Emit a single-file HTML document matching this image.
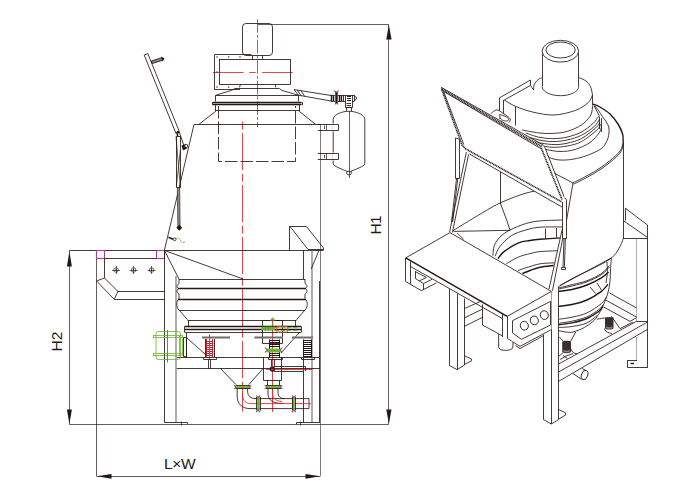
<!DOCTYPE html>
<html>
<head>
<meta charset="utf-8">
<style>
html,body{margin:0;padding:0;background:#fff;}
body{width:700px;height:500px;overflow:hidden;font-family:"Liberation Sans",sans-serif;}
svg{display:block;}
text{font-family:"Liberation Sans",sans-serif;fill:#231815;stroke:none;}
.k{stroke:#231815;fill:none;stroke-width:.85;}
.t{stroke:#231815;fill:none;stroke-width:.7;}
.g{stroke:#8a8a8a;fill:none;stroke-width:.7;}
.b{stroke:#231815;fill:none;stroke-width:1.4;}
.bb{stroke:#2e2421;fill:none;stroke-width:1.6;stroke-dasharray:1.2 .5;}
.b3{stroke:#2e2421;fill:none;stroke-width:2.4;stroke-dasharray:1.1 .6;}
.r{stroke:#e6212a;fill:none;stroke-width:.85;}
.gr{stroke:#6bb52d;fill:none;stroke-width:.8;}
.p{stroke:#a63ea4;fill:none;stroke-width:1.1;}
.w{fill:#fff;}
.a{fill:#231815;stroke:none;}
</style>
</head>
<body>
<svg width="700" height="500" viewBox="0 0 700 500">
<rect width="700" height="500" fill="#fff"/>

<!-- ================= LEFT DRAWING ================= -->
<g id="left">

<!-- dimension lines -->
<g class="t">
<path d="M257.4,24.5L388.6,24.5"/>
<path d="M388.5,24.4L388.5,424.4"/>
<path d="M69.4,424.5L388.6,424.5"/>
<path d="M69.5,250.4L69.5,424.4"/>
<path d="M96.5,250.4L96.5,476.5"/>
<path d="M320.5,124.4L320.5,476.5" stroke="#4a4340"/>
<path d="M97,476.5L320,476.5"/>
</g>
<g class="a">
<path d="M388.9,25L386.2,39.5L391.6,39.5Z"/>
<path d="M388.9,424L386.3,409.5L391.5,409.5Z"/>
<path d="M69.4,251.5L66.9,266.5L71.9,266.5Z"/>
<path d="M69.4,424L66.9,409.5L71.9,409.5Z"/>
<path d="M97,476.3L111.5,473.9L111.5,478.7Z"/>
<path d="M320.2,476.3L305.5,473.9L305.5,478.7Z"/>
</g>
<text x="164" y="468.7" font-size="15.5" letter-spacing="-0.35">L×W</text>
<text transform="translate(62.3,351.5) rotate(-90)" font-size="15.5">H2</text>
<text transform="translate(381,234.5) rotate(-90)" font-size="15.5" letter-spacing="-0.6">H1</text>

<!-- centerlines -->
<g class="r">
<path d="M257.5,19.3L257.5,127" stroke-dasharray="13.5 2 3 2"/>
<path d="M212.9,72.5L293,72.5" stroke-dasharray="30.7 5.7 6.4 6.4"/>
<path d="M242.5,121.6L242.5,411.5" stroke-dasharray="37 3.5 8 3.5" stroke-dashoffset="40.5"/>
<path d="M272.5,318L272.5,412"/>
</g>

<!-- motor -->
<rect class="k" x="242.5" y="23.5" width="30" height="32" rx="3.5"/>
<path class="k" d="M252.5,55.6L252.5,59.3M262.5,55.6L262.5,59.3"/>
<!-- fan box -->
<path class="k" d="M251.4,54.5L214.5,54.5L214.5,89.5L240,89.5"/>
<rect class="k" x="219.5" y="59.5" width="71" height="25"/>
<g class="a">
<circle cx="217" cy="57" r=".7"/><circle cx="228.7" cy="57" r=".7"/><circle cx="240" cy="57" r=".7"/>
<circle cx="217" cy="72" r=".7"/><circle cx="217" cy="87" r=".7"/><circle cx="228.7" cy="87" r=".7"/>
</g>
<!-- lid / transition -->
<path class="k" d="M240.7,84.3L239.3,87.4M275.5,84.3L275.5,87.4"/>
<path class="k" d="M215.5,101.4L215.5,95.3L231.4,90.4L235,88.5L279.3,88.5L282,90.4L298.5,95.3L298.5,101.4"/>
<path class="k" d="M215.7,95.5L298.6,95.5"/>
<path class="b" d="M213,102.5L301.5,102.5"/>
<path class="b" d="M213,104.5L301.5,104.5"/>
<path class="k" d="M212.5,102L212.5,105.2M302.5,102L302.5,105.2"/>
<path class="k" d="M215,110.5L299.8,110.5"/>
<!-- upper cone -->
<path class="k" d="M215.5,105.2L215.5,111.5L199,124.3M194,124.4L164.4,250.4"/>
<path class="k" d="M299.5,105.2L299.5,111.5L315.5,124.3"/>
<path class="k" d="M194,124.5L320.6,124.5"/>
<!-- dashed inner cylinder -->
<path style="stroke-dasharray:12.5 3" class="k" d="M218.5,106L218.5,161.5L295.5,161.5L295.5,106"/>

<!-- tube to tank -->
<path class="k" d="M294,89.6L331,95.5M298.5,95.2L331,101M294,89.6L298.5,95.2"/>
<path class="k" d="M297.2,90.1L301,95.6M301,90.7L304.6,96.3"/>
<!-- valve -->
<path class="b" d="M331.5,94.8L331.5,101.6M333.5,95.5L333.5,101M339.5,95L339.5,101.5M341.5,95.5L341.5,101"/>
<path class="k" d="M331,95.5L354,95.5L357,98L354,101.5L352,101.5M331,101.5L345.5,101.5M343.5,95.2L343.5,101.2M345.5,95.2L345.5,101.2M352.5,95.2L352.5,101.2M354.5,95.2L354.5,101.2"/>
<path class="b" d="M347,96.5L351,96.5M347,98.5L351,98.5M347,100.5L351,100.5" style="stroke-width:1"/>
<path class="p" d="M335.5,91L335.5,104.4M337.5,91L337.5,104.4M333.8,90.6L336.3,92.4L338.8,90.6"/>
<path class="b" d="M336.5,92.5L336.5,103.5" style="stroke-width:1.2"/>
<path class="k" d="M345.5,101.2L345.5,107.5L352.5,107.5L352.5,101.2M346.5,107.6L346.5,111.3M351.5,107.6L351.5,111.3"/>
<path class="b" d="M346.5,103.5L351,103.5M346.5,105.5L351,105.5M346.5,107.5L351,107.5" style="stroke-width:.9"/>
<!-- tank -->
<path class="k" d="M333.2,164V119.5C333.2,115 340,112.3 346.4,111.3H351.2C358,112.3 364.8,115 364.8,119.5V164C364.8,166 354,170 351,171.3H347C344,170 333.2,166 333.2,164Z"/>
<path class="t" d="M349.5,111.3L349.5,178"/>
<path class="k" d="M346.8,171.3V173.5C346.8,175.2 351.2,175.2 351.2,173.5V171.3"/>
<!-- brackets -->
<path class="w" d="M332.5,123.5L337.5,123.5L337.5,131.5L332.5,131.5ZM332.5,152.5L337.5,152.5L337.5,160.5L332.5,160.5Z"/>
<path class="k" d="M317.8,124.5L338.5,124.5L338.5,130.5L317.8,130.5M317.8,153.5L338.5,153.5L338.5,159.5L317.8,159.5"/>
<path class="t" d="M326.5,124.4L326.5,130M324.5,125.5L324.5,129M326.5,153.6L326.5,159.2M324.5,154.6L324.5,158.2"/>

<!-- lid bar -->
<path class="k" d="M144.2,55L147.8,53.6L179.3,131.5M144.2,55L176,133.5"/>
<path style="fill:#231815" class="k" d="M151.3,61L161.8,57.7L162.6,60.3L152.1,63.6Z" fill-opacity=".55"/>
<path class="a" d="M161.2,56.6L164.6,58.6L162.6,61.6Z"/>
<!-- gas spring -->
<path class="k" d="M176.5,136.5L180.5,136.5L180.5,187.5L176.5,187.5Z"/>
<path class="t" d="M176,136.5L180.4,187.3M180.4,150L176.3,187"/>
<path style="stroke-width:1.6" class="b" d="M176.2,133.2L179.6,131.7M177.5,131L177.5,136.5"/>
<path d="M177.3,187.5L177.8,226.5L180.1,226.5L179.7,187.5Z" fill="#8f8987" stroke="#231815" stroke-width=".6"/>
<path class="a" d="M179.3,224.8L182.2,227.8L179.3,230.8L176.4,227.8Z"/>
<path class="k" d="M179.3,132L184,146"/>
<path class="a" d="M181.5,145.5L186,144L187,148.5L183,150.5Z"/>
<circle style="fill:#fff" class="k" cx="186.2" cy="146" r="1.6"/>
<!-- small latch -->
<path style="stroke-width:1.7" class="b" d="M168.5,237.3L173,239.2"/>
<circle class="k" cx="174.6" cy="239.3" r="1.4"/>
<path class="gr" d="M176,239C178,237.5 179.5,238.5 180.5,240.5C181.5,242.7 183.5,243.3 185.2,241.2"/>

<!-- top horizontal of base -->
<path class="k" d="M69.4,250.5L323,250.5"/>
<!-- purple squares -->
<rect class="p" x="96.5" y="250.5" width="8" height="8"/>
<rect class="p" x="156.5" y="250.5" width="8" height="8"/>
<path class="k" d="M104.4,258.5L156.6,258.5"/>
<!-- chute -->
<path class="k" d="M104.5,258.4L104.5,278L118,291.5L164.4,291.5"/>
<path class="k" d="M96.6,281L104.4,278M96.6,281L114.4,299.5L164.4,299.5M118,291L114.4,299"/>
<g style="stroke-width:.65" class="t">
<circle cx="116" cy="270" r="2.3"/><path d="M112,270.5L120,270.5M116.5,266L116.5,274"/>
<circle cx="133.6" cy="270" r="2.3"/><path d="M129.6,270.5L137.6,270.5M133.5,266L133.5,274"/>
<circle cx="151.6" cy="270" r="2.3"/><path d="M147.6,270.5L155.6,270.5M151.5,266L151.5,274"/>
</g>
<g class="a"><circle cx="116" cy="270" r=".8"/><circle cx="133.6" cy="270" r=".8"/><circle cx="151.6" cy="270" r=".8"/></g>

<!-- left leg -->
<path class="k" d="M164.5,250.4L164.5,422.4"/>
<path class="g" d="M175.5,276L175.5,422.4M176.5,276L176.5,422.4"/>
<path class="k" d="M164.4,422.5L187.5,422.5L187.5,424.4"/>
<path class="t" d="M181.5,421.5L181.5,425.5"/>
<!-- hopper -->
<path class="k" d="M164.4,250.4L243,279M164.4,250.4L179,279"/>
<!-- right side -->
<path class="k" d="M303.5,250.4L303.5,279"/>
<path class="g" d="M311.5,250.4L311.5,422.4M312.5,250.4L312.5,422.4"/>
<path class="k" d="M319.5,281L319.5,422.4"/>
<path class="k" d="M319,250.4L311.2,269"/>
<path class="k" d="M296.6,422.5L320,422.5M296.5,422.4L296.5,424.4"/>
<path class="t" d="M300.5,421.5L300.5,425.5"/>
<path class="k" d="M303.5,357.4L303.5,422.4"/>
<!-- right box on top -->
<path class="k" d="M289.5,250.4L289.5,226.5L306.4,226.5L323.5,248L323.5,250.4M291,227.6L308,249.5L323,249.5M289.4,226.4L291,227.6"/>

<!-- screen body -->
<path class="k" d="M179,279.5L305,279.5"/>
<path class="b" d="M178,288.5L306,288.5"/>
<path class="b" d="M178,299.5L306,299.5"/>
<path class="k" d="M179,310.5L305,310.5"/>
<path class="k" d="M179,279V283.5C176.5,285 176.5,287.5 178.5,288.6C176.5,290 176.5,292.5 179,294V299C176,301 176,307 179,310"/>
<path class="k" d="M305,279V283.5C307.5,285 307.5,287.5 305.5,288.6C307.5,290 307.5,292.5 305,294V299C308,301 308,307 305,310"/>
<path class="k" d="M179,310L187.5,319.7M305,310L296.5,319.7"/>
<path class="k" d="M187.5,320.5L296.5,320.5"/>
<path class="b" d="M184.6,326.5L301,326.5"/><path class="k" d="M184.6,332.5L301,332.5M184.5,326.4L184.5,332.4M301.5,326.4L301.5,332.4"/>
<path class="b" d="M184.6,329.5L301,329.5"/>
<path class="k" d="M188.5,320L188.5,326.4M295.5,320L295.5,326.4"/>
<!-- box with green -->
<path class="k" d="M262.5,320.5L282.5,320.5L282.5,343.5L262.5,343.5Z"/>
<path style="stroke-width:3.6" class="gr" d="M261.4,328.5L275,328.5"/>
<path style="stroke-width:.9;stroke-dasharray:4 2" class="gr" d="M275,327.5L297,327.5M275,330.5L297,330.5"/>
<path style="stroke-width:.5;stroke:#3c7a1a" class="k" d="M265.5,327L265.5,331M268.5,327L268.5,331"/>
<path d="M269.8,320.5L272.6,317.3L275.4,320.5Z" fill="#6bb52d"/>
<rect x="276.4" y="326.3" width="11.4" height="5.8" rx="1.4" fill="none" stroke="#d9532a" stroke-width="1"/>
<!-- under plate -->
<path class="k" d="M186.5,332.4L186.5,357.4M187,338L206,355"/>
<path class="k" d="M299.5,332.4L281,353"/>
<path d="M202,337.5L230,337.5M254.3,337.5L283,337.5M292,337.5L313,337.5" stroke="#6e6e6e" stroke-width="2" fill="none"/>
<!-- springs -->
<g stroke="#231815" stroke-width=".9" fill="none"><path d="M205.5,339L205.5,357M214.5,339L214.5,357"/></g>
<g stroke="#c5262c" stroke-width="1" fill="none">
<path d="M206.5,339L206.5,357M212.5,339L212.5,357"/>
<path d="M206,341.5L213.4,341.5M206,343.5L213.4,343.5M206,345.5L213.4,345.5M206,347.5L213.4,347.5M206,349.5L213.4,349.5M206,351.5L213.4,351.5M206,353.5L213.4,353.5M206,355.5L213.4,355.5"/>
</g>
<path class="r" d="M209.5,334L209.5,360"/>
<path class="k" d="M203.5,357.4L203.5,359.5L216.5,359.5L216.5,357.4"/>
<g stroke="#231815" stroke-width="1" fill="none">
<path d="M303.5,339.5L303.5,357M311.5,339.5L311.5,357"/>
<path d="M303,340.5L311.6,340.5M303,342.5L311.6,342.5M303,344.5L311.6,344.5M303,346.5L311.6,346.5M303,348.5L311.6,348.5M303,350.5L311.6,350.5M303,352.5L311.6,352.5M303,354.5L311.6,354.5M303,356.5L311.6,356.5"/>
<path d="M269.5,339.5L269.5,358M279.5,339.5L279.5,358"/>
<path d="M269.8,340.5L279.8,340.5M269.8,342.5L279.8,342.5M269.8,344.5L279.8,344.5M269.8,346.5L279.8,346.5M269.8,353.5L279.8,353.5M269.8,355.5L279.8,355.5"/>
</g>
<path style="stroke-width:3.8" class="gr" d="M266.5,350.5L280.8,350.5"/>
<path class="p" d="M265,347.5L267.2,350L265,352.5M282.4,347.5L280.2,350L282.4,352.5"/>
<path class="k" d="M301.5,357.4L301.5,359.5L314.5,359.5L314.5,357.4M268.5,357.4L268.5,359.5L282.5,359.5L282.5,357.4"/>

<!-- frame beam -->
<path class="k" d="M176.8,357.5L319.6,357.5M176.8,368.5L319.6,368.5"/>
<path class="k" d="M208.5,359.4L208.5,368.6M210.5,359.4L210.5,368.6"/>
<!-- bottom cone -->
<path class="k" d="M220.6,368.6L236,384.6M263,368.6L248.8,384.6"/>
<!-- valve body -->
<path class="k" d="M263.5,357.4L263.5,380.5L281.5,380.5L281.5,357.4"/>
<path class="k" d="M267.5,380L267.5,385M279.5,380L279.5,385"/>
<path class="k" d="M271.5,359.4L271.5,366.4M274.5,359.4L274.5,366.4"/>
<!-- pipe from circle -->
<path class="k" d="M274,366.5L305,366.5M274,371.5L303.4,371.5M305.5,366.2L305.5,371"/>
<path class="r" d="M266,369.5L312,369.5"/>
<circle cx="272.4" cy="369" r="2" fill="none" stroke="#231815" stroke-width="1.3"/>
<!-- flanges -->
<path style="stroke-width:2.8" class="gr" d="M235.5,387.5L250,387.5"/>
<path class="k" d="M235.5,385.5L250,385.5M235.5,388.5L250,388.5"/>
<path class="p" d="M234.2,385L236,387L234.2,389M251.3,385L249.5,387L251.3,389"/>
<path style="stroke-width:2.8" class="gr" d="M266,387.5L281,387.5"/>
<path class="k" d="M266,385.5L281,385.5M266,388.5L281,388.5"/>
<path class="p" d="M264.7,385L266.5,387L264.7,389M282.3,385L280.5,387L282.3,389"/>
<!-- pipes -->
<path class="k" d="M237.2,389V396C237.2,404 242,408.6 250,408.6H309V398.6H256C250.5,398.6 247.6,396 247.6,391V389"/>
<path class="k" d="M268,389V393C268,400 272,403.5 283.5,403.5M278,389V392C278,396.5 280,398.6 284.5,398.6"/>
<path class="r" d="M242.5,389V395C242.5,401 246,403.6 252,403.6H311M272.4,389V392C272.4,398 275,401 282,401.5"/>
<path style="stroke-width:2.6" class="gr" d="M258.5,397L258.5,410.5"/>
<path class="k" d="M256.5,397L256.5,410.5M260.5,397L260.5,410.5"/>
<path class="p" d="M256.3,395.5L258.2,397.3L260.1,395.5M256.3,412L258.2,410.2L260.1,412"/>
<path style="stroke-width:2.6" class="gr" d="M293.5,397L293.5,410.5"/>
<path class="k" d="M292.5,397L292.5,410.5M295.5,397L295.5,410.5"/>
<path class="p" d="M291.9,395.5L293.8,397.3L295.7,395.5M291.9,412L293.8,410.2L295.7,412"/>

<!-- green motor -->
<g class="gr">
<rect x="156" y="331.5" width="24.5" height="28" rx="2.2"/>
<path d="M153,335.5L182.5,335.5M153,337.5L182.5,337.5M153,353.5L182.5,353.5M153,355.5L182.5,355.5M153.5,335L153.5,337.5M153.5,353.5L153.5,355.7"/>
<path d="M179.5,335L179.5,355.7M182.5,335L182.5,355.7"/>
</g>
<path class="k" d="M183.5,337.5L186.5,337.5L186.5,356.5L183.5,356.5Z"/>
<path class="r" d="M167.5,330L167.5,362.5"/>
</g>

<!-- RIGHT-BEGIN -->
<g id="right">
<path class="b" d="M592.5,104.0C593.8,104.5 597.1,105.3 600.0,107.0C602.9,108.7 607.0,111.2 610.0,114.0C613.0,116.8 615.9,120.7 618.0,124.0C620.1,127.3 621.8,131.2 622.6,134.0C623.5,136.8 623.0,139.8 623.1,141.0"/>
<path class="k" d="M623.5,141L623.5,238.6"/>
<path class="k" d="M623.1,238.6C622.8,239.4 622.6,241.1 621.4,243.6C620.2,246.1 617.8,250.9 615.7,253.6C613.6,256.3 612.2,257.6 608.6,260.0C605.0,262.4 599.5,265.2 594.3,267.9C589.0,270.6 582.8,273.1 577.1,276.0C571.4,278.9 562.9,283.9 560.0,285.5"/>
<path class="k" d="M595.0,106.0C595.6,106.8 597.3,108.8 598.5,110.5C599.7,112.2 600.8,114.2 602.0,116.0C603.2,117.8 604.9,119.7 606.0,121.5C607.1,123.3 608.3,124.9 608.8,127.0C609.3,129.1 609.1,131.7 608.8,134.0C608.5,136.3 608.2,138.3 607.0,140.7C605.8,143.1 604.7,146.1 601.4,148.6C598.1,151.1 591.8,153.7 587.0,155.5C582.2,157.3 577.4,158.4 572.9,159.2C568.4,159.9 563.9,160.3 560.0,160.0C556.1,159.7 552.1,158.9 549.5,157.5C546.9,156.1 545.2,152.4 544.3,151.4"/>
<path class="k" d="M572.9,182.9C575.3,181.7 582.4,178.3 587.1,175.7C591.9,173.1 596.6,170.4 601.4,167.1C606.2,163.8 612.4,158.8 615.7,155.7C619.0,152.6 620.2,151.0 621.4,148.6C622.6,146.2 622.8,142.3 623.1,141.0"/>
<path class="k" d="M573.5,184.2C575.9,183.0 583.0,179.6 587.7,177.0C592.5,174.4 597.2,171.7 602.0,168.4C606.8,165.1 612.9,160.0 616.2,157.0C619.5,154.0 620.5,152.5 621.6,150.3C622.8,148.1 622.9,145.1 623.1,144.0"/>
<path class="k" d="M573,183L549,170.3M573,183L566.6,220"/>
<path class="k" d="M525.7,132.9C527.9,133.6 534.1,136.2 538.6,137.1C543.1,138.0 548.1,138.6 552.9,138.6C557.6,138.6 562.4,138.2 567.1,137.1C571.9,136.0 577.1,134.3 581.4,132.1C585.7,129.8 590.0,126.2 592.9,123.6C595.8,121.0 597.6,117.6 598.6,116.4"/>
<path class="k" d="M530.0,137.5C531.7,137.9 536.2,139.5 540.0,140.2C543.8,140.9 548.4,141.6 552.9,141.6C557.4,141.6 562.4,141.1 567.1,140.0C571.9,138.9 576.9,137.6 581.4,135.3C585.9,133.0 591.3,129.1 594.3,126.4C597.3,123.7 598.5,120.5 599.3,119.3"/>
<path class="k" d="M535.0,141.5C536.2,141.8 538.7,142.8 542.0,143.3C545.3,143.8 550.8,144.6 555.0,144.6C559.2,144.6 562.7,144.2 567.1,143.2C571.5,142.2 576.6,141.1 581.4,138.6C586.2,136.1 592.6,130.7 595.7,127.9C598.8,125.1 599.3,123.0 600.0,122.0"/>
<path class="k" d="M540.0,145.5C542.1,145.8 548.4,147.2 552.9,147.3C557.4,147.4 562.4,146.9 567.1,146.0C571.9,145.1 576.4,144.3 581.4,141.6C586.4,138.9 593.9,132.7 597.1,129.8C600.3,126.9 600.1,125.1 600.7,124.2"/>
<path class="k" d="M546.0,149.5C548.3,149.8 555.2,151.5 560.0,151.5C564.8,151.5 570.0,151.0 575.0,149.5C580.0,148.0 586.0,145.2 590.0,142.5C594.0,139.8 597.1,135.6 599.0,133.0C600.9,130.4 601.1,128.0 601.5,127.0"/>
<path class="k" d="M599.5,116.5L599.5,129M601.5,118L601.5,132"/>
<path class="k" d="M594,105.5L599.3,116"/>
<path d="M504.3,100L515.5,106.4L515.5,125L522.1,130L538.6,132.9L552.9,133.4L567.1,131.4L581.4,125L590,116.4L592.5,108L592.5,95L590.5,86.5L586,81L579,77.7L542.1,77.9L538.6,79.3L534.3,84.3L533.6,90L530.5,85.7L530.5,80L499.5,97.9L499.5,118.6L503.6,118Z" fill="#fff" stroke="none"/>
<path class="k" d="M522.1,130.0C524.9,130.5 533.5,132.3 538.6,132.9C543.7,133.5 548.1,133.7 552.9,133.4C557.6,133.2 562.4,132.8 567.1,131.4C571.9,130.0 577.6,127.5 581.4,125.0C585.2,122.5 588.1,119.2 590.0,116.4C591.9,113.6 592.1,110.1 592.5,108.0C592.9,105.9 592.5,104.7 592.5,104.0"/>
<path class="k" d="M592.5,95L592.5,104"/>
<path class="k" d="M504.3,100.0C506.2,101.1 510.9,104.4 515.7,106.4C520.5,108.4 526.5,110.7 532.9,112.1C539.3,113.5 547.2,115.3 554.3,115.0C561.4,114.7 570.1,112.3 575.7,110.3C581.3,108.3 585.2,105.3 588.0,102.8C590.8,100.2 591.8,96.3 592.5,95.0"/>
<path class="k" d="M592.5,95.0C592.2,93.6 591.6,88.8 590.5,86.5C589.4,84.2 587.9,82.5 586.0,81.0C584.1,79.5 580.2,78.2 579.0,77.7"/>
<path class="k" d="M533.6,90.0C533.7,89.0 533.5,86.0 534.3,84.3C535.1,82.6 536.9,80.7 538.2,79.6C539.5,78.5 541.5,78.0 542.1,77.7"/>
<path class="k" d="M499.5,118.6L499.5,97.9L530.5,80L530.5,85.7L533.6,90M530,85.7L504.3,100M503.5,100L503.5,118"/>
<path class="k" d="M515.5,106.4L515.5,125.5"/>
<path d="M542.1,51V86.4C542.2,86.7 542.2,87.6 542.5,88.2C542.7,88.8 543.0,89.4 543.5,90.0C543.9,90.5 544.5,91.1 545.2,91.6C545.8,92.1 546.6,92.5 547.5,93.0C548.3,93.4 549.2,93.8 550.2,94.1C551.2,94.5 552.3,94.8 553.4,95.0C554.5,95.2 555.7,95.4 556.8,95.5C558.0,95.6 559.2,95.7 560.4,95.7C561.6,95.7 562.8,95.6 564.0,95.5C565.1,95.4 566.3,95.2 567.4,95.0C568.5,94.8 569.6,94.5 570.6,94.1C571.6,93.8 572.5,93.4 573.3,93.0C574.2,92.5 575.0,92.1 575.6,91.6C576.3,91.1 576.9,90.5 577.3,90.0C577.8,89.4 578.1,88.8 578.3,88.2C578.6,87.6 578.6,86.7 578.7,86.4V51Z" fill="#fff" stroke="none"/>
<path class="k" d="M542.5,51L542.5,86.4M578.5,51L578.5,86.4"/>
<path class="k" d="M578.7,86.4C578.6,86.7 578.6,87.6 578.3,88.2C578.1,88.8 577.8,89.4 577.3,90.0C576.9,90.5 576.3,91.1 575.6,91.6C575.0,92.1 574.2,92.5 573.3,93.0C572.5,93.4 571.6,93.8 570.6,94.1C569.6,94.5 568.5,94.8 567.4,95.0C566.3,95.2 565.1,95.4 564.0,95.5C562.8,95.6 561.6,95.7 560.4,95.7C559.2,95.7 558.0,95.6 556.8,95.5C555.7,95.4 554.5,95.2 553.4,95.0C552.3,94.8 551.2,94.5 550.2,94.1C549.2,93.8 548.3,93.4 547.5,93.0C546.6,92.5 545.8,92.1 545.2,91.6C544.5,91.1 543.9,90.5 543.5,90.0C543.0,89.4 542.7,88.8 542.5,88.2C542.2,87.6 542.2,86.7 542.1,86.4"/>
<ellipse class="k" cx="560.4" cy="51.2" rx="18.3" ry="10.9" style="fill:#fff"/>
<ellipse class="k" cx="560.6" cy="50" rx="14.7" ry="8"/>
<path class="k" d="M500.5,172L500.5,202.9"/>
<path class="k" d="M452.9,230.7C455.6,229.0 463.6,224.1 469.3,220.7C475.0,217.2 481.9,213.0 487.1,210.0C492.3,207.0 494.8,205.4 500.3,202.9C505.8,200.4 514.5,196.9 520.0,195.0C525.5,193.1 528.8,192.3 533.0,191.4C537.2,190.5 543.0,189.8 545.0,189.5"/>
<path class="k" d="M500.3,202.9L507,221L510,230.2"/>
<path class="k" d="M453.6,231.4L510,230.3"/>
<path class="k" d="M457,232.9L463.6,239.3"/>
<path d="M490.8,113.7C491.4,113.2 493.2,111.4 494.4,110.8C495.6,110.2 496.4,109.6 498.0,110.1C499.6,110.6 502.0,112.6 503.8,113.8C505.6,115.0 507.7,116.3 508.8,117.3C509.9,118.3 510.3,118.8 510.3,119.7C510.3,120.6 509.1,122.1 508.8,122.6L490.8,113.7Z" fill="#fff" stroke="none"/>
<path class="k" d="M490.8,113.7C491.4,113.2 493.2,111.4 494.4,110.8C495.6,110.2 496.4,109.6 498.0,110.1C499.6,110.6 502.0,112.6 503.8,113.8C505.6,115.0 507.7,116.3 508.8,117.3C509.9,118.3 510.3,118.8 510.3,119.7C510.3,120.6 509.1,122.1 508.8,122.6"/>
<path class="k" d="M499.6,114.6C500.3,114.8 502.6,115.2 504.0,115.8C505.4,116.4 507.4,117.4 508.1,118.2C508.8,119.0 508.9,120.0 508.3,120.4C507.7,120.9 505.8,121.1 504.5,120.9C503.2,120.7 501.4,120.0 500.6,119.0C499.8,118.0 499.8,115.3 499.6,114.6"/>
<path d="M441,87.4L543.3,146L564,196.5L562.4,207L469.5,154L462,145Z" fill="#fff" stroke="none"/>
<path class="k" d="M441,87.2L543.5,145.2"/>
<path class="b3" d="M441.9,89.1L542,147"/>
<path class="k" d="M443.2,91.2L540.8,148.6"/>
<path class="bb" d="M441.4,88.5L462,145L465,148.5"/>
<path class="k" d="M443.6,91.5L463.8,144.6"/>
<path class="bb" d="M465,148.5L562,202"/>
<path class="k" d="M469.5,154L562,207"/>
<path class="bb" d="M541.2,148L562,199.5"/>
<path class="k" d="M544.6,146.5L564,196.5"/>
<path d="M455.5,138.5L459.5,138.5L459.5,178.5L455.5,178.5Z" fill="#fff" stroke="none"/>
<path class="k" d="M455.5,138L455.5,178.5L459.5,178.5L459.5,139.2L455.5,138"/>
<path class="k" d="M456.6,178L451.5,222M457.8,178L452.7,222"/>
<path class="k" d="M466.4,152L449.6,232M468.6,154.3L452.4,232.4"/>
<path class="k" d="M492.9,255.7C493.1,254.0 493.1,248.8 494.3,245.7C495.5,242.6 497.4,239.6 500.0,237.0C502.6,234.4 505.7,232.2 510.0,230.0C514.3,227.8 520.7,225.1 525.7,223.6C530.7,222.1 534.0,221.5 540.0,220.9C546.0,220.3 558.3,220.2 562.0,220.0"/>
<path class="k" d="M495.0,256.4C495.8,254.7 497.3,249.8 500.0,246.4C502.7,243.0 507.1,238.4 511.4,235.7C515.7,233.0 520.9,231.4 525.7,230.0C530.5,228.6 534.0,227.7 540.0,227.2C546.0,226.7 558.3,227.0 562.0,227.0"/>
<path class="b" d="M497.9,258.6C499.0,257.4 500.9,254.0 504.3,251.4C507.8,248.8 514.3,244.7 518.6,242.9C522.9,241.1 526.4,241.1 530.0,240.5C533.6,239.9 534.9,239.7 540.0,239.3C545.1,238.9 557.2,238.1 560.7,237.9"/>
<path class="k" d="M506.4,263.6C508.4,262.5 514.7,258.7 518.6,257.0C522.5,255.3 526.4,254.5 530.0,253.6C533.6,252.7 535.2,252.1 540.0,251.6C544.8,251.1 555.5,250.8 558.6,250.7"/>
<path class="k" d="M517.9,270.7C519.2,270.2 522.0,269.0 525.7,267.9C529.4,266.8 535.2,264.6 540.0,263.8C544.8,263.0 551.9,263.0 554.3,262.9"/>
<path class="b" d="M522.5,273.5C523.8,273.0 527.1,271.5 530.0,270.5C532.9,269.5 536.1,268.1 540.0,267.3C543.9,266.5 551.3,265.8 553.6,265.5"/>
<path class="k" d="M545.5,228.6L545.5,238.6M556.5,228L556.5,237.6"/>
<path d="M563.6,223L565.4,225L552.4,291L549,289Z" fill="#fff" stroke="none"/>
<path class="k" d="M563.6,223L549,289M565.2,226L552.4,291"/>
<path d="M562.5,200.5L566.5,200.5L566.5,238.5L562.5,238.5Z" fill="#fff" stroke="none"/>
<path class="k" d="M562.5,202L562.5,238.5L566.5,238.5L566.5,200L564.5,197.5"/>
<path class="k" d="M564,238.6L563,267M565.4,238.6L564.4,267"/>
<path class="k" d="M561.5,267.5L565.5,267.5L565.5,269.5L561.5,269.5Z"/>
<path class="k" d="M625,208L647.5,225L647.5,237.5M625.5,208L625.5,220.5M623.1,220.5L647.6,237.5M623.1,238.5L647.6,238.5"/>
<path class="k" d="M647.5,237.5L647.5,367.9"/>
<path class="g" d="M636.5,238.6L636.5,321.4M636.5,337L636.5,360.7"/>
<path class="k" d="M558.6,286.4L611.4,257.9"/>
<path class="k" d="M558.6,287.9C561.0,287.3 568.2,285.7 572.9,284.5C577.6,283.3 582.2,282.5 587.0,280.7C591.8,278.9 597.6,276.1 601.4,273.6C605.1,271.1 608.1,266.9 609.5,265.5"/>
<path class="k" d="M558.6,289.0C561.0,288.5 568.2,287.0 572.9,285.8C577.6,284.6 582.2,283.7 587.0,281.8C591.8,279.9 597.6,277.2 601.4,274.7C605.1,272.2 608.1,268.3 609.5,267.0"/>
<path class="b" d="M558.6,291.4C561.0,291.0 568.1,290.4 572.9,289.3C577.6,288.2 582.4,286.9 587.1,285.0C591.9,283.1 597.8,280.1 601.4,277.9C605.0,275.7 607.4,273.0 608.6,272.0"/>
<path class="b" d="M558.6,306.4C561.0,306.0 568.2,305.4 572.9,304.3C577.6,303.2 582.2,302.1 587.0,300.0C591.8,297.9 597.9,294.0 601.4,291.4C604.9,288.8 606.8,285.5 607.9,284.3"/>
<path class="k" d="M558.6,319.3C561.0,318.9 568.2,318.1 572.9,317.0C577.6,315.9 582.2,315.1 587.0,312.9C591.8,310.7 598.2,306.2 601.4,303.6C604.6,301.0 605.6,298.1 606.4,297.0"/>
<path class="k" d="M558.6,323.3C561.0,322.9 568.2,322.1 572.9,321.0C577.6,319.9 582.7,318.8 587.0,316.9C591.3,315.0 595.9,311.8 598.6,309.7C601.4,307.6 602.7,305.4 603.5,304.5"/>
<path class="b" d="M558.6,324.8C561.0,324.4 568.2,323.7 572.9,322.6C577.6,321.6 582.7,320.4 587.0,318.5C591.3,316.6 595.9,313.5 598.6,311.5C601.3,309.5 602.3,307.3 603.0,306.5"/>
<path class="k" d="M558.6,327.5C561.0,327.3 568.2,327.2 572.9,326.4C577.6,325.6 583.0,324.7 587.0,322.9C591.0,321.1 595.3,316.9 597.0,315.7"/>
<path class="k" d="M559.0,330.7C560.2,330.9 563.7,331.8 566.0,332.0C568.3,332.2 570.0,332.8 573.0,332.0C576.0,331.2 581.0,329.3 584.3,327.5C587.6,325.7 590.5,323.6 592.9,321.4C595.3,319.2 596.7,317.4 598.6,314.3C600.5,311.2 602.8,306.5 604.3,302.9C605.8,299.3 606.9,296.5 607.9,292.9C608.9,289.3 609.6,285.2 610.0,281.4C610.4,277.6 610.3,273.9 610.5,270.0C610.7,266.1 611.2,259.9 611.4,257.9"/>
<path class="k" d="M607.0,262.0C607.0,263.8 607.5,269.5 607.3,273.0C607.1,276.5 606.2,281.3 606.0,283.0"/>
<path class="k" d="M590,287L595.7,293.6M597,283L601.4,290"/>
<path class="k" d="M559.3,337L563.6,341.4M575.7,332L570.7,341.4"/>
<path d="M562.2,342C562.2,340.3 571,340.3 571,342V351.5C571,353.8 562.2,353.8 562.2,351.5Z" fill="#3a2f2c"/>
<path d="M563.5,349.5C563.5,351 569.8,351 569.8,349.5V351.3C569.8,352.6 563.5,352.6 563.5,351.3Z" fill="#8a8482"/>
<path class="k" d="M558.6,356.5L563,352.8M560,359.5L566,356L573,353.5M563,355.5L567.5,358.5"/>
<path class="k" d="M597.0,319.2C598.0,319.0 601.0,318.5 603.0,318.2C605.0,317.9 607.3,317.7 609.0,317.6C610.7,317.5 612.6,317.6 613.3,317.6"/>
<path d="M605,318.5C605,317.2 613.5,317.2 613.5,318.5V328C613.5,330 605,330 605,328Z" fill="#3a2f2c"/>
<path d="M606,326C606,327.5 612.5,327.5 612.5,326V327.8C612.5,329.2 606,329.2 606,327.8Z" fill="#8a8482"/>
<path class="k" d="M604.5,328.5C604.7,328.9 604.8,330.3 605.5,331.0C606.2,331.7 607.9,332.4 609.0,332.8C610.1,333.2 611.5,333.4 612.0,333.5"/>
<path class="k" d="M609.3,292.9L636.4,307.9M605.7,300L636.4,317M603.6,307L630,321.4L636.4,317.8M611.4,316.4L620,328.6L632.9,322"/>
<path class="k" d="M636.4,321.5L647.6,321.5"/>
<path class="k" d="M558.6,372L647.6,322M558.6,381.4L647.6,329.3"/>
<path class="k" d="M636.4,321.4L558.6,364"/>
<path class="k" d="M571,349.2C572,352 574,353.5 577,353.8"/>
<path class="k" d="M627,360.5L637,360.5M627.5,360.7L627.5,367.5L647.6,367.5"/>
<path class="b" d="M630.5,363.5L634,363.5"/>
<path class="k" d="M573,373.5L581.5,379.3M582,368.5L586.5,370.8"/>
<ellipse class="k" cx="584.6" cy="375" rx="3.1" ry="4.8" transform="rotate(20 584.6 375)" style="fill:#fff"/>
<path d="M405.5,257.9L450,232.6L551.5,291.4L551.5,328L520,346.4L507.1,338.6L502.1,337L482.5,325L482.5,305L410.5,266.4L410.5,283.6L405.5,281.4Z" fill="#fff" stroke="none"/>
<path class="k" d="M405.7,257.9L450,232.6L551.4,291.4L507.1,316.4"/>
<path class="b" d="M405.7,257.9L507.1,316.4"/>
<path class="k" d="M410.3,266.4L502.1,318.4"/>
<path class="k" d="M405.5,257.9L405.5,281.4L421.4,290.7L436.4,282.9"/>
<path class="k" d="M410.5,261.4L410.5,283.8"/>
<path class="k" d="M415.5,271.4L415.5,278.6L423.6,283.6L432,279.3M415,271.4L426.4,277.5M423.5,283.6L423.5,290M419.3,280.8L426.4,277.5"/>
<path class="k" d="M507.5,316.4L507.5,338.6L520,346.4L551.5,329.5L551.5,291.4"/>
<path class="k" d="M502.5,313.6L502.5,337"/>
<path class="k" d="M512.5,320.7L550.5,301.4L550.5,325L521.4,339.3L512.5,332.9Z"/>
<ellipse class="k" cx="524.3" cy="325.7" rx="4" ry="4.4" transform="rotate(-20 524.3 325.7)"/>
<ellipse class="k" cx="534.3" cy="320.4" rx="4" ry="4.4" transform="rotate(-20 534.3 320.4)"/>
<ellipse class="k" cx="544.3" cy="315.1" rx="4" ry="4.4" transform="rotate(-20 544.3 315.1)"/>
<path class="k" d="M482.5,304.3L482.5,325L502.1,335.7"/>
<path d="M498.6,336V347C498.6,351.5 512.9,351.5 512.9,347V342Z" fill="#fff" stroke="none"/>
<path class="k" d="M498.6,334V347C498.6,351.5 512.9,351.5 512.9,347V342.2"/>
<path class="k" d="M520,348.6L543.6,335.5M515.5,345.5L520,348.6"/>
<path d="M449.5,290L464.5,300L464.5,365L457.1,369.6L449.5,365.6Z" fill="#fff" stroke="none"/>
<path class="k" d="M449.5,289L449.5,365.6L457.1,369.6L464.5,365L464.5,298.5"/>
<path class="k" d="M457.5,293.5L457.5,369.6"/>
<path class="k" d="M464.3,355.7L471.5,359L471.5,360.8L464.3,364.5"/>
<path class="k" d="M464.3,308.6L482.1,300.7M464.3,317.9L482.1,309.3M464.3,326.4L482.9,317.1"/>
<path d="M551.5,291.4L558.5,286.4L558.5,419.6L551.4,424L543.5,419.6L543.5,335L551.5,330Z" fill="#fff" stroke="none"/>
<path class="k" d="M543.5,334.5L543.5,419.6L551.4,424L558.5,419.6L558.5,286.4"/>
<path class="k" d="M551.5,329.5L551.5,424"/>
<path class="k" d="M558.6,409.5L565.5,412.8L565.5,415L558.6,419.2"/>
</g>
<!-- RIGHT-END -->
</svg>
</body>
</html>
